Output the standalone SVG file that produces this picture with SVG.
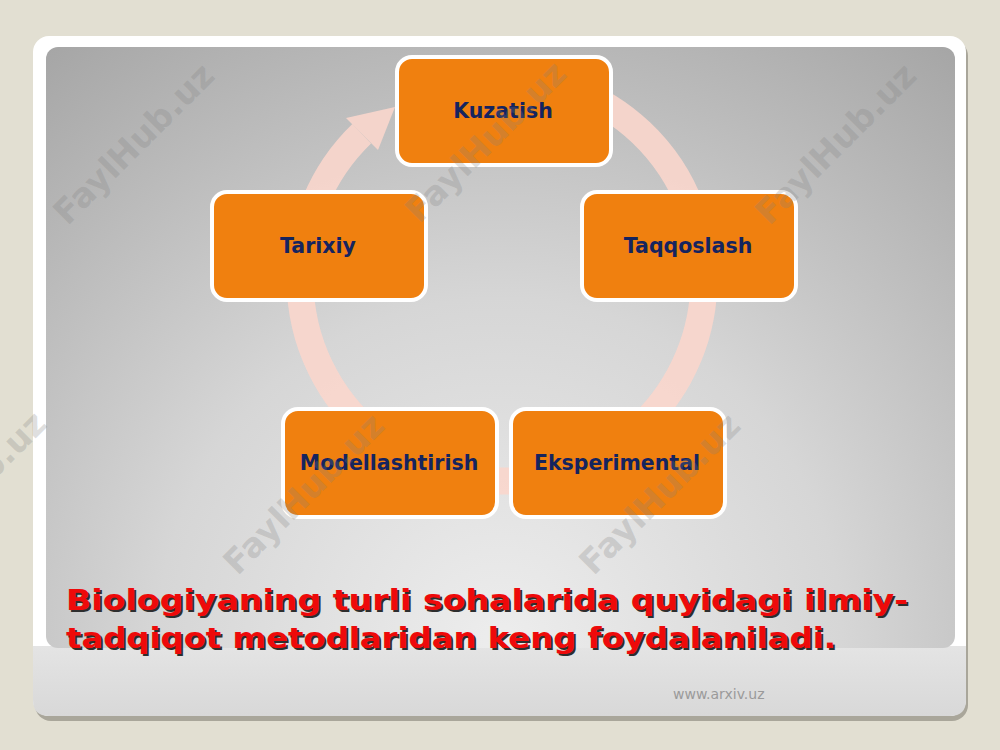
<svg xmlns="http://www.w3.org/2000/svg" width="1000" height="750" viewBox="0 0 1000 750">
  <defs>
    <radialGradient id="panelGrad" gradientUnits="userSpaceOnUse" cx="500" cy="640" r="760">
      <stop offset="0" stop-color="#ededed"/>
      <stop offset="0.45" stop-color="#d6d6d6"/>
      <stop offset="1" stop-color="#a4a4a4"/>
    </radialGradient>
    <linearGradient id="stripGrad" x1="0" y1="0" x2="0" y2="1">
      <stop offset="0" stop-color="#e4e4e4"/>
      <stop offset="1" stop-color="#d8d8d8"/>
    </linearGradient>
    <style>
      .box { fill: #f0800f; stroke: #ffffff; stroke-width: 4; }
      .lbl { font-family: "DejaVu Sans", Verdana, sans-serif; font-weight: bold; font-size: 20.5px; fill: #15245f; text-anchor: middle; }
      .wm { font-family: "DejaVu Sans", Verdana, sans-serif; font-weight: bold; font-size: 34px; fill: #808080; fill-opacity: 0.26; text-anchor: middle; }
      .title { font-family: "DejaVu Sans", Verdana, sans-serif; font-weight: bold; font-size: 29px; }
      .ring { fill: none; stroke: #f9d6cc; stroke-opacity: 0.9; stroke-width: 27; }
    </style>
  </defs>

  <!-- page background -->
  <rect x="0" y="0" width="1000" height="750" fill="#e2dfd2"/>

  <!-- slide card -->
  <g id="card">
    <rect x="35" y="40" width="933" height="681" rx="16" fill="#a9a69a"/>
    <rect x="33" y="36" width="933" height="680" rx="16" fill="#ffffff"/>
    <path d="M33 646 H966 V700 Q966 716 950 716 H49 Q33 716 33 700 Z" fill="url(#stripGrad)"/>
    <rect x="46" y="47" width="909" height="601" rx="12" fill="url(#panelGrad)"/>
  </g>

  <!-- cycle ring with arrow -->
  <g id="connectors">
    <path class="ring" d="M 571.1 89.2 A 202 202 0 1 1 361.7 133.7"/>
    <polygon points="346,118 395,107 378,150" fill="#f9d6cc" fill-opacity="0.9"/>
  </g>

  <!-- nodes -->
  <g id="node-kuzatish">
    <rect class="box" x="397" y="57" width="214" height="108" rx="15"/>
    <text class="lbl" x="503" y="118">Kuzatish</text>
  </g>
  <g id="node-taqqoslash">
    <rect class="box" x="582" y="192" width="214" height="108" rx="15"/>
    <text class="lbl" x="688" y="253">Taqqoslash</text>
  </g>
  <g id="node-tarixiy">
    <rect class="box" x="212" y="192" width="214" height="108" rx="15"/>
    <text class="lbl" x="318" y="253">Tarixiy</text>
  </g>
  <g id="node-modellashtirish">
    <rect class="box" x="283" y="409" width="214" height="108" rx="15"/>
    <text class="lbl" x="389" y="470">Modellashtirish</text>
  </g>
  <g id="node-eksperimental">
    <rect class="box" x="511" y="409" width="214" height="108" rx="15"/>
    <text class="lbl" x="617" y="470">Eksperimental</text>
  </g>

  <!-- watermarks -->
  <g id="watermarks">
    <text class="wm" transform="translate(142,152) rotate(-45)">FaylHub.uz</text>
    <text class="wm" transform="translate(494,150) rotate(-45)">FaylHub.uz</text>
    <text class="wm" transform="translate(844,152) rotate(-45)">FaylHub.uz</text>
    <text class="wm" transform="translate(312,502) rotate(-45)">FaylHub.uz</text>
    <text class="wm" transform="translate(668,502) rotate(-45)">FaylHub.uz</text>
    <text class="wm" transform="translate(-26,500) rotate(-45)">FaylHub.uz</text>
  </g>

  <!-- title text -->
  <g id="title">
    <text class="title" fill="#2e2e2e" x="68" y="612" textLength="842" lengthAdjust="spacingAndGlyphs">Biologiyaning turli sohalarida quyidagi ilmiy-</text>
    <text class="title" fill="#ee0a0a" x="66" y="610" textLength="842" lengthAdjust="spacingAndGlyphs">Biologiyaning turli sohalarida quyidagi ilmiy-</text>
    <text class="title" fill="#2e2e2e" x="68" y="650" textLength="770" lengthAdjust="spacingAndGlyphs">tadqiqot metodlaridan keng foydalaniladi.</text>
    <text class="title" fill="#ee0a0a" x="66" y="648" textLength="770" lengthAdjust="spacingAndGlyphs">tadqiqot metodlaridan keng foydalaniladi.</text>
  </g>

  <text x="673" y="699" font-family="DejaVu Sans, Verdana, sans-serif" font-size="14" fill="#9a9a9a">www.arxiv.uz</text>
</svg>
